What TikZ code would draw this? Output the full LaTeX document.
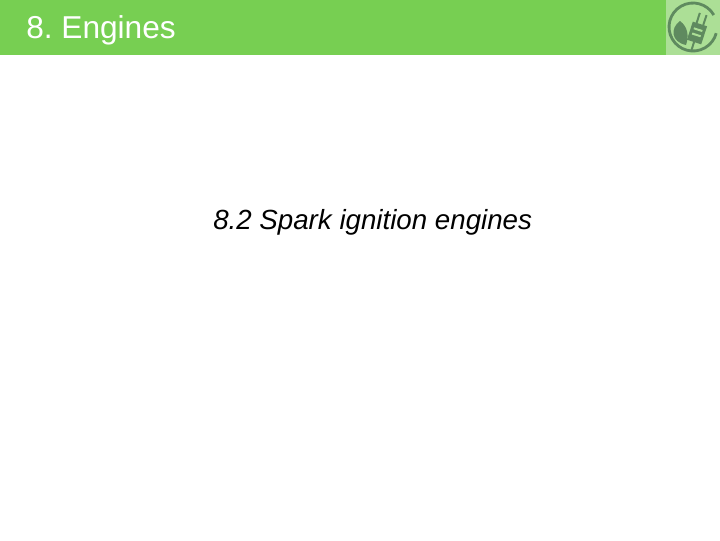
\documentclass[tikz,border=0pt]{standalone}
\usepackage{fontspec}
\setmainfont{Liberation Sans}
\usepackage{xcolor}
\definecolor{barGreen}{HTML}{77CF52}
\definecolor{iconBack}{HTML}{ACDF96}
\definecolor{iconDark}{HTML}{5F8A5F}
\usetikzlibrary{calc, positioning}
\tikzset{
    titletext/.style={text=white, inner sep=0pt, anchor=west, font=\fontsize{22.5}{26}\selectfont},
    subtitletext/.style={text=black, inner sep=0pt, anchor=west, font=\fontsize{19.7}{24}\selectfont\itshape},
    icondark/.style={fill=iconDark, draw=none}
}
\frenchspacing

\begin{document}
\begin{tikzpicture}[x=0.025cm, y=-0.025cm]
    \useasboundingbox (0, 0) rectangle (720, 540);
    \fill[barGreen] (0, 0) rectangle (720, 55);
    \fill[iconBack] (666, 0) rectangle (720, 55);
    \node[titletext] (title) at (26, 30) {8. Engines};
    \node[subtitletext] (subtitle) at (213, 222) {8.2 Spark ignition engines};
    % ring
    \draw[iconDark, line width=2pt] (713.8, 15) arc[start angle=-30, end angle=-345, radius=24];
    % leaf
    \fill[icondark] (680, 21) .. controls (670, 28) and (671, 42) .. (686, 45) .. controls (689, 36) and (688, 27) .. (680, 21);
    % plug
    \begin{scope}[shift={(697, 33)}, rotate=-18]
        \fill[icondark] (-7.5, -9.5) rectangle (7.5, 9.5);
        \fill[iconBack] (-4.5, -4.5) rectangle (4.5, -2.5);
        \fill[iconBack] (-4.5, 1) rectangle (4.5, 3);
        \draw[iconDark, line width=1.4pt] (-3.5, -9) -- (-3.5, -20);
        \draw[iconDark, line width=1.4pt] (3.5, -9) -- (3.5, -20);
        \draw[iconDark, line width=1.4pt] (0, 9) -- (0, 18);
    \end{scope}
\end{tikzpicture}
\end{document}
